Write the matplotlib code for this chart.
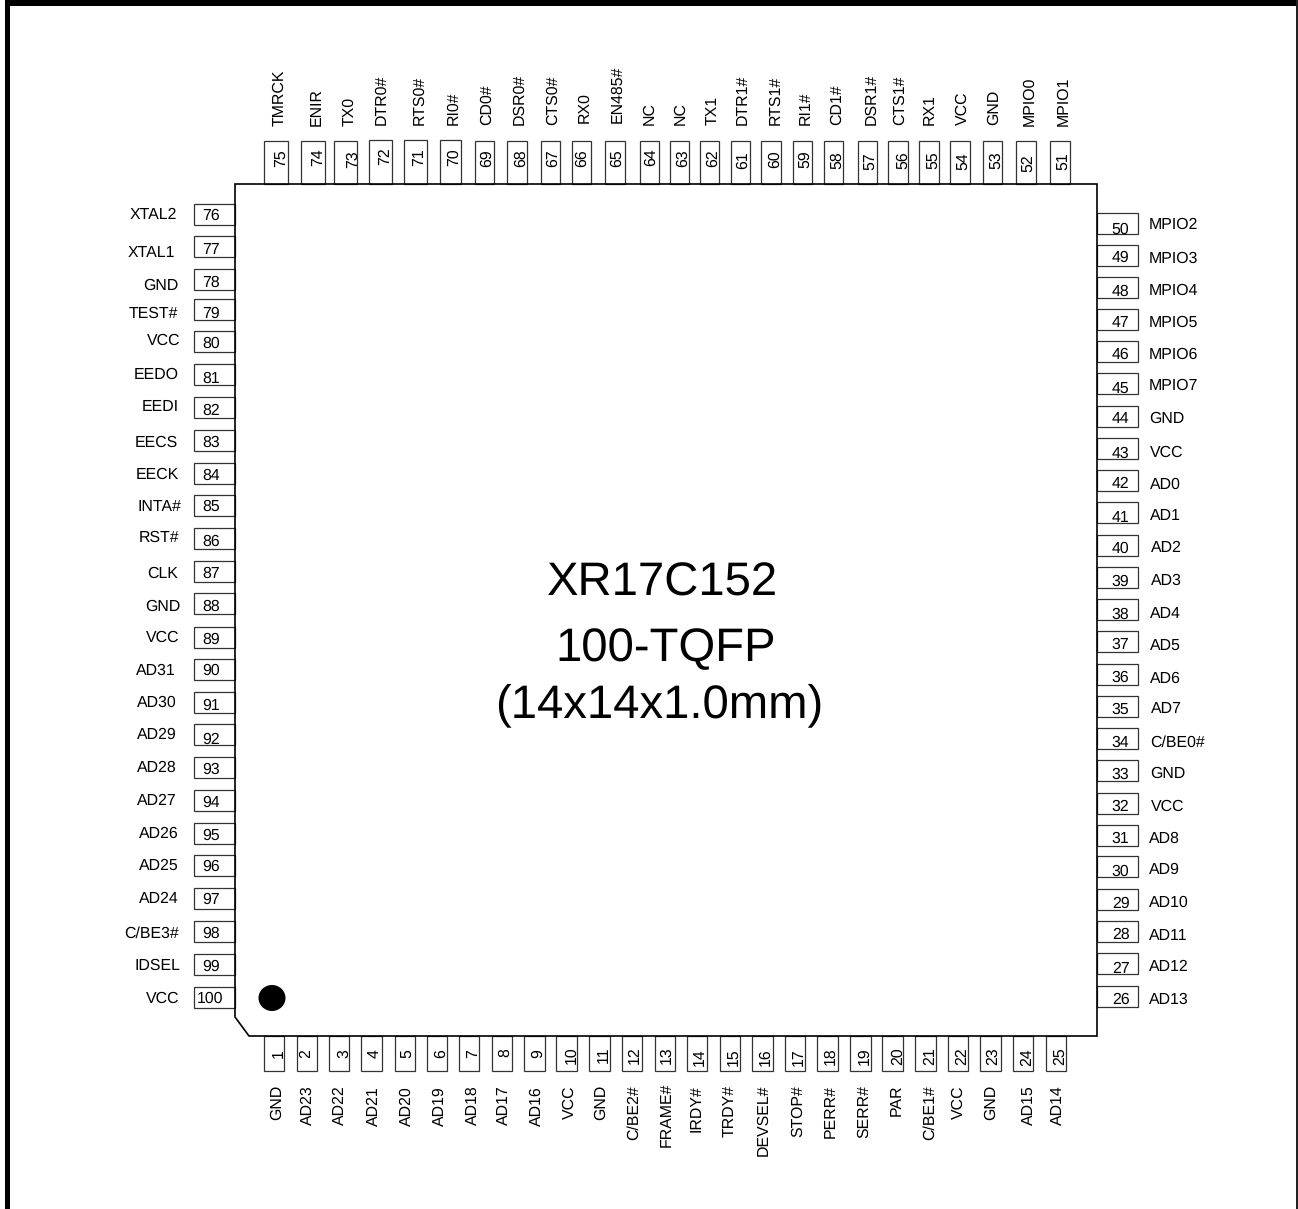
import matplotlib
matplotlib.use('Agg')
import matplotlib.pyplot as plt
from matplotlib.patches import Rectangle, Polygon, Ellipse

plt.rcParams['font.family'] = ['Liberation Sans', 'DejaVu Sans']
plt.rcParams['text.hinting'] = 'no_hinting'

# left side, pins 76-100
left_pins = list(range(76, 101))
left_names = ['XTAL2', 'XTAL1', 'GND', 'TEST#', 'VCC', 'EEDO', 'EEDI', 'EECS', 'EECK', 'INTA#', 'RST#',
              'CLK', 'GND', 'VCC', 'AD31', 'AD30', 'AD29', 'AD28', 'AD27', 'AD26', 'AD25', 'AD24',
              'C/BE3#', 'IDSEL', 'VCC']
left_box_y = [214, 246.7, 279.5, 309.2, 341.7, 374.5, 407, 440.3, 473.3, 505.5, 538.8, 571.3, 603.8, 637, 669.2,
              702.3, 734.7, 767.8, 800, 833.7, 865.5, 898.7, 931.2, 964.2, 997]
left_num_y = [214, 248, 280.7, 311.7, 342, 376.7, 409, 440.7, 474, 505, 540, 571.7, 605, 637.7, 669, 704.3, 738,
              767.7, 800.7, 834.3, 865, 897.7, 931.7, 965, 996.7]
left_name_y = [213.3, 251, 284.3, 311.7, 339.3, 372.7, 405.7, 440.7, 473.3, 505, 535.7, 571.7, 605, 635.7, 669,
               700.7, 732.7, 765.7, 799, 831.7, 864.3, 897.3, 931.7, 964.3, 996.7]
left_name_x = [176.7, 175.3, 178.3, 178.3, 180, 179, 178.3, 178.3, 179, 181, 179, 178.3, 180, 179.3, 175.7, 176.7,
               176.7, 176.7, 176.7, 179, 179, 179, 179, 180, 179.3]

# right side, pins 50-26
right_pins = list(range(50, 25, -1))
right_names = ['MPIO2', 'MPIO3', 'MPIO4', 'MPIO5', 'MPIO6', 'MPIO7', 'GND', 'VCC', 'AD0', 'AD1', 'AD2', 'AD3',
               'AD4', 'AD5', 'AD6', 'AD7', 'C/BE0#', 'GND', 'VCC', 'AD8', 'AD9', 'AD10', 'AD11', 'AD12', 'AD13']
right_box_y = [223, 255, 287.5, 319.2, 351.7, 383.8, 416.2, 448.3, 480.5, 512.8, 545, 577.2, 609.5, 641.7, 674.2,
               706.2, 738.8, 770.5, 803.3, 835, 866.7, 899.2, 931.7, 963.8, 996.2]
right_num_y = [228.3, 256, 290, 321.7, 353.3, 386.7, 417.3, 451.7, 482.7, 516, 546.7, 580, 612.7, 643.3, 676, 708.3,
               740.7, 772.7, 805, 837.3, 870, 901.7, 933.3, 967.3, 998.3]
right_name_y = [223.3, 256.7, 289.3, 320.7, 353.3, 384.3, 417.3, 450.7, 482.7, 514.3, 546.7, 579.3, 612.7, 644.3,
                676.7, 707.7, 740.7, 771.7, 805, 837.3, 868.3, 901, 934.3, 965, 998.3]
right_name_x = [1149, 1149, 1149, 1149, 1149, 1149, 1149, 1150, 1150, 1150, 1150.7, 1150.7, 1150, 1150, 1150, 1151,
                1150, 1150, 1151, 1149.3, 1149.3, 1149.3, 1149.3, 1149.3, 1149.3]

# top side, pins 75-51
top_pins = list(range(75, 50, -1))
top_names = ['TMRCK', 'ENIR', 'TX0', 'DTR0#', 'RTS0#', 'RI0#', 'CD0#', 'DSR0#', 'CTS0#', 'RX0', 'EN485#', 'NC',
             'NC', 'TX1', 'DTR1#', 'RTS1#', 'RI1#', 'CD1#', 'DSR1#', 'CTS1#', 'RX1', 'VCC', 'GND', 'MPIO0', 'MPIO1']
top_box_left = [264, 301, 333.7, 369.3, 404.3, 440.3, 475, 507.3, 541, 571.7, 605.3, 639.7, 669.7, 700, 731, 761.3,
                792.7, 824, 858, 888.3, 919.3, 950.3, 983, 1016.3, 1050.3]
top_box_right = [287.7, 324.7, 357.3, 391.7, 427, 461.3, 494, 526.7, 560.3, 590.7, 624.7, 659, 689, 719.3, 750,
                 780.7, 811.7, 843.3, 877.3, 907.7, 938.7, 969.7, 1002.3, 1035.7, 1069.7]
top_box_top = [141, 141, 141, 139.5, 139.5, 139.5] + [141] * 19
top_num_x = [279.3, 316.3, 351.7, 383.3, 417.7, 452.7, 485, 519.3, 551, 580.7, 615, 649, 681, 711.7, 741.7, 773.3,
             803.3, 835.7, 868.3, 901.7, 931.7, 961.7, 995, 1026.7, 1061.7]
top_num_y = [158, 157, 159, 156, 157, 157, 158, 158, 158, 158, 158, 157, 158, 158, 160, 159, 159, 160, 161, 160,
             160, 161, 160, 163, 161]
top_name_x = [278.3, 315, 347.7, 380, 417.7, 451.7, 485, 517.7, 551.7, 582.7, 615.7, 648.3, 679.3, 710.7, 741, 774,
              804, 835, 870, 898.3, 928.3, 961, 992.7, 1028.3, 1061.7]
top_name_y = [126.7, 126.7, 126.7, 125.7, 125.7, 125.7, 125.7, 125.7, 125.7, 123.3, 123.3, 125.7, 125.7, 125.7,
              125.7, 125.7, 125.7, 125.7, 125.7, 125.7, 125.7, 125.7, 125.7, 126.7, 126.7]

# bottom side, pins 1-25
bottom_pins = list(range(1, 26))
bottom_names = ['GND', 'AD23', 'AD22', 'AD21', 'AD20', 'AD19', 'AD18', 'AD17', 'AD16', 'VCC', 'GND', 'C/BE2#',
                'FRAME#', 'IRDY#', 'TRDY#', 'DEVSEL#', 'STOP#', 'PERR#', 'SERR#', 'PAR', 'C/BE1#', 'VCC', 'GND',
                'AD15', 'AD14']
bottom_box_left = [264, 296.7, 328.7, 361.3, 394.7, 426.7, 459.3, 491.7, 524, 556.3, 589.3, 622, 654.7, 687, 720,
                   752.3, 785, 817.3, 850, 882.3, 915, 947.7, 980, 1013.3, 1045.7]
bottom_box_right = [284.3, 316.7, 349.3, 382.3, 414.7, 447.3, 479.3, 512.3, 544.7, 577, 610, 642.3, 675, 707.3, 740,
                    772.7, 805.3, 838, 870.7, 903, 935.7, 968.3, 1000.7, 1033.3, 1066]
bottom_num_x = [276.7, 305, 342.3, 373.3, 405.7, 439.3, 471.7, 504, 536.7, 570, 601.7, 633.3, 665, 698.3, 731.7,
                764.3, 796.7, 829.3, 863.3, 896, 928.3, 961, 991.7, 1026, 1058.3]
bottom_num_y = [1055, 1055, 1055, 1054.5, 1055, 1055, 1055, 1054, 1055, 1056, 1056, 1056, 1056, 1058, 1058, 1058,
                1058, 1057, 1057, 1057, 1057, 1057, 1057, 1058, 1057]
bottom_name_x = [275, 306, 338.3, 372.7, 405, 438.3, 470.7, 502.7, 535, 568.3, 599, 632.7, 665, 695, 727.7, 761.7,
                 796.7, 829, 862.3, 895, 928.3, 956.7, 989, 1026.7, 1056.7]
bottom_name_y = [1085, 1085, 1085, 1086, 1086, 1086, 1085, 1085, 1086, 1085, 1085, 1085, 1083, 1085, 1085, 1085,
                 1085, 1085, 1085, 1084, 1085, 1085, 1085, 1085, 1085]

title_lines = ['XR17C152', '100-TQFP', '(14x14x1.0mm)']
title_x = [663, 665.5, 659]
title_y = [583, 649, 705]

fig = plt.figure(figsize=(12.98, 12.09), dpi=100)
ax = fig.add_axes([0, 0, 1, 1])
ax.set_xlim(0, 1298)
ax.set_ylim(1209, 0)
ax.axis('off')

small = 11.4
edge = '#333333'
# rotated text is centred on a box that includes descender room
rot_shift = 1.5

# page border, open at the bottom
ax.add_patch(Rectangle((5, 0), 1293, 6, fc='black', ec='none'))
ax.add_patch(Rectangle((5, 0), 5, 1209, fc='black', ec='none'))
ax.add_patch(Rectangle((1296, 0), 2, 1209, fc='#222222', ec='none'))

for i in range(25):
    # left side
    ax.add_patch(Rectangle((193.5, left_box_y[i] - 10.5), 41.5, 21, fc='white', ec=edge, lw=0.9))
    ax.text(196.7 if left_pins[i] == 100 else 202.3, left_num_y[i], str(left_pins[i]), fontsize=small,
            ha='left', va='center_baseline')
    ax.text(left_name_x[i], left_name_y[i], left_names[i], fontsize=small, ha='right', va='center_baseline')
    # right side
    ax.add_patch(Rectangle((1097, right_box_y[i] - 10.5), 41.3, 21, fc='white', ec=edge, lw=0.9))
    ax.text(1129.5, right_num_y[i], str(right_pins[i]), fontsize=small, ha='right', va='center_baseline')
    ax.text(right_name_x[i], right_name_y[i], right_names[i], fontsize=small, ha='left', va='center_baseline')
    # top side
    ax.add_patch(Rectangle((top_box_left[i], top_box_top[i]), top_box_right[i] - top_box_left[i],
                           184 - top_box_top[i], fc='white', ec=edge, lw=0.9))
    ax.text(top_num_x[i] + rot_shift, top_num_y[i], str(top_pins[i]), fontsize=small, rotation=90, ha='center', va='center')
    ax.text(top_name_x[i] + rot_shift, top_name_y[i] - 0.5, top_names[i], fontsize=small, rotation=90, ha='center', va='bottom')
    # bottom side
    ax.add_patch(Rectangle((bottom_box_left[i], 1036), bottom_box_right[i] - bottom_box_left[i], 35,
                           fc='white', ec=edge, lw=0.9))
    ax.text(bottom_num_x[i] + rot_shift, bottom_num_y[i] - 1, str(bottom_pins[i]), fontsize=small, rotation=90, ha='center', va='center')
    ax.text(bottom_name_x[i] + rot_shift, bottom_name_y[i], bottom_names[i], fontsize=small, rotation=90, ha='center', va='top')

# package body with the cut corner
ax.add_patch(Polygon([(235, 184), (1097, 184), (1097, 1036), (249, 1036), (235, 1017)], closed=True,
                     fc='none', ec='black', lw=1.2, zorder=3))
ax.add_patch(Ellipse((272, 998), 27, 26, fc='black', ec='none', zorder=4))

for line, x, y in zip(title_lines, title_x, title_y):
    ax.text(x, y, line, fontsize=34, ha='center', va='center', zorder=5)

fig.savefig('out.png', dpi=100)
